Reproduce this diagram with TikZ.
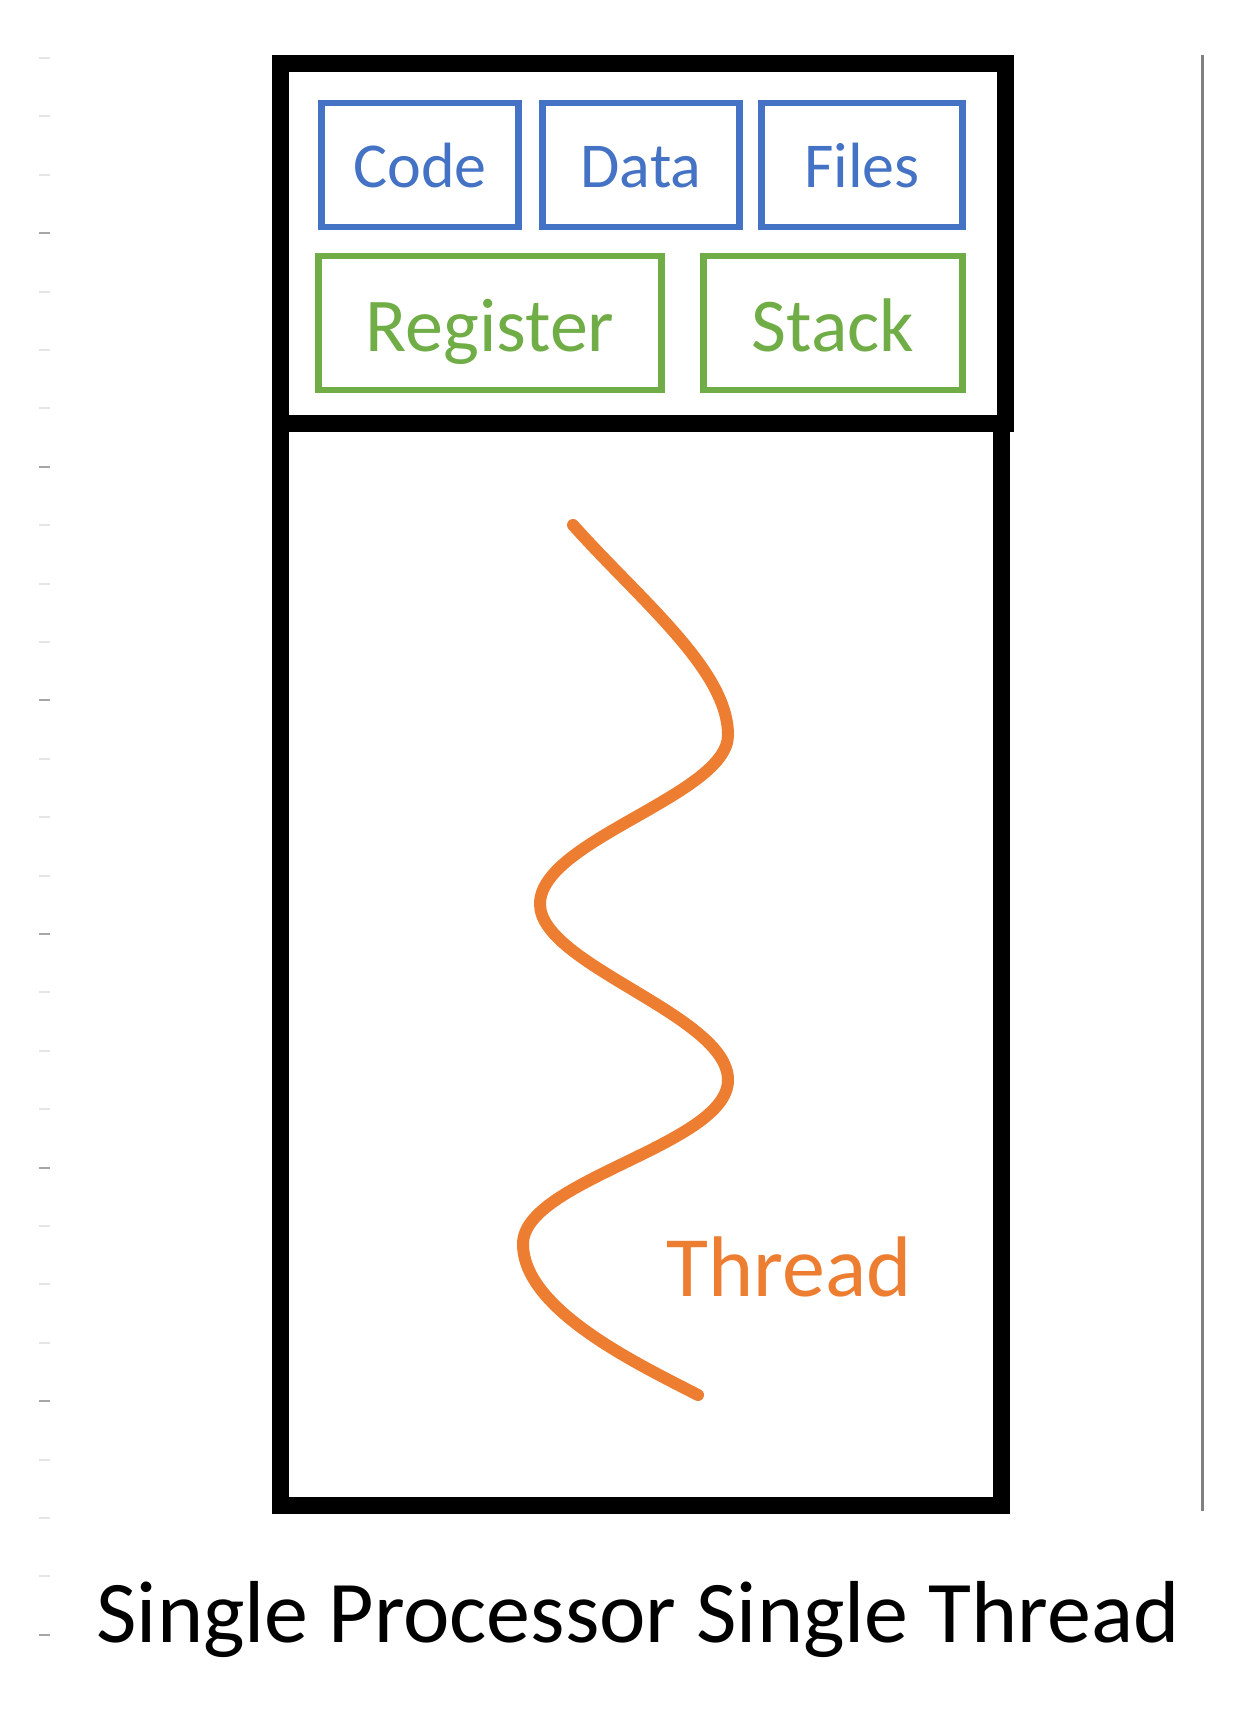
\documentclass[tikz,border=0pt]{standalone}
\usepackage{fontspec}
\setmainfont{Carlito}
\definecolor{boxblue}{HTML}{4472C4}
\definecolor{boxgreen}{HTML}{70AD47}
\definecolor{threadorange}{HTML}{ED7D31}
\tikzset{
  procframe/.style={draw=black,line width=17pt},
  sharedbox/.style={draw=boxblue,text=boxblue,line width=6.5pt,minimum width=#1,minimum height=124pt,inner sep=0pt,text height=50pt,text depth=4pt,font=\fontsize{64}{70}\selectfont},
  threadbox/.style={draw=boxgreen,text=boxgreen,line width=6.5pt,minimum width=#1,minimum height=134pt,inner sep=0pt,text height=60pt,text depth=4pt,font=\fontsize{76}{80}\selectfont},
  threadline/.style={draw=threadorange,line width=12pt,line cap=round},
}

\begin{document}
\begin{tikzpicture}[x=1pt,y=-1pt]
  \useasboundingbox (0,0) rectangle (1248,1720);
  \fill[white] (0,0) rectangle (1248,1720);

  \foreach \i in {0,...,27}{
    \pgfmathtruncatemacro{\dark}{mod(\i,4)==3}
    \ifnum\dark=1
      \draw[black!35,line width=2pt] (39,58+58.4*\i) -- (50,58+58.4*\i);
    \else
      \draw[black!10,line width=2pt] (39,58+58.4*\i) -- (50,58+58.4*\i);
    \fi
  }
  \draw[black!50,line width=3pt] (1202,55) -- (1202,1511);

  \draw[procframe] (280,64) rectangle (1005,423);
  \draw[procframe] (280,423) rectangle (1001,1505);

  \node (code) [sharedbox=197pt] at (420,165) {Code};
  \node (data) [sharedbox=197pt] at (641,165) {Data};
  \node (files) [sharedbox=201pt] at (862,165) {Files};

  \node (register) [threadbox=343pt] at (490,323) {Register};
  \node (stack) [threadbox=259pt] at (833,323) {Stack};

  \draw[threadline] (573,525) .. controls (640,600) and (728,670) .. (728,735)
    .. controls (728,795) and (540,840) .. (540,904)
    .. controls (540,965) and (728,1015) .. (728,1080)
    .. controls (728,1145) and (523,1180) .. (523,1244)
    .. controls (523,1310) and (640,1365) .. (698,1395);
  \node (threadlabel) [anchor=base,text=threadorange,font=\fontsize{86}{90}\selectfont] at (789,1296) {Thread};

  \node (title) [anchor=base,font=\fontsize{88}{92}\selectfont] at (638,1642) {Single Processor Single Thread};
\end{tikzpicture}
\end{document}
